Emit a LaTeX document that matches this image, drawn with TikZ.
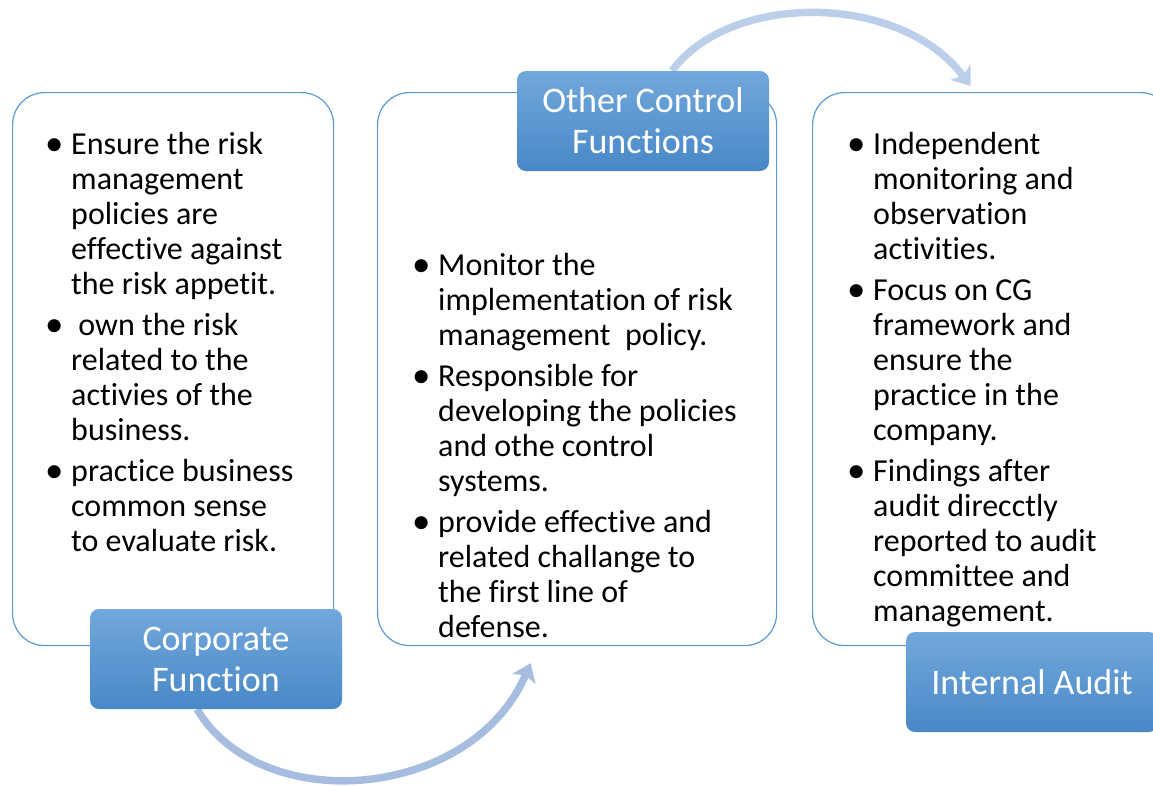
\documentclass[tikz,border=0pt]{standalone}
\usepackage{fontspec}
\setmainfont{Carlito}[Ligatures={NoCommon}]
\usepackage{enumitem}
\usetikzlibrary{arrows.meta,positioning}
\definecolor{panelline}{RGB}{91,155,213}
\definecolor{tagtop}{RGB}{114,168,220}
\definecolor{tagbot}{RGB}{72,136,199}
\definecolor{flowlow}{RGB}{166,189,223}
\definecolor{flowhigh}{RGB}{188,207,234}
\pgfdeclarelayer{back}
\pgfdeclarelayer{flows}
\pgfsetlayers{back,flows,main}
% bullet list used inside the panels
\newcommand{\pointmark}{\makebox[0pt][l]{\hspace{-5pt}\raisebox{-1.4pt}{\scalebox{1.15}{\textbullet}}}}
\newenvironment{points}[1]{\begin{minipage}[t]{#1}\raggedright
  \begin{itemize}[label=\pointmark,leftmargin=21pt,labelwidth=0pt,labelsep=21pt,labelindent=0pt,
    itemsep=6pt,parsep=0pt,topsep=0pt,partopsep=0pt]}
  {\end{itemize}\end{minipage}}
\begin{document}
\begin{tikzpicture}[x=1pt,y=-1pt,line join=round,
  panel/.style={draw=panelline,line width=1.2pt,rounded corners=32pt,fill=white,anchor=north west,inner sep=0pt},
  tag/.style={rounded corners=9pt,top color=tagtop,bottom color=tagbot,text=white,align=center,
    minimum width=252pt,minimum height=100pt,inner sep=0pt,font=\fontsize{36}{41}\selectfont},
  body/.style={anchor=base west,inner sep=0pt,font=\fontsize{32}{35}\selectfont},
  flow/.style={line width=7.5pt,-{Stealth[length=17pt,width=25pt,inset=4pt]}}]
\clip (0,0) rectangle (1153,785);
\useasboundingbox (0,0) rectangle (1153,785);
\begin{pgfonlayer}{back}
%% panels
\node[panel,minimum width=321pt,minimum height=553pt] (left) at (12,92) {};
\node[panel,minimum width=399pt,minimum height=553pt] (mid) at (377,92) {};
\node[panel,minimum width=360pt,minimum height=553pt] (right) at (812,92) {};
%% panel texts
\node[body] (ltext) at (50,154) {\begin{points}{300pt}
  \item Ensure the risk\newline management\newline policies are\newline effective against\newline the risk appetit.
  \item \ own the risk\newline related to the\newline activies of the\newline business.
  \item practice business\newline common sense\newline to evaluate risk.
\end{points}};
\node[body] (mtext) at (417,275) {\begin{points}{340pt}
  \item Monitor the\newline implementation of risk\newline management\ \ policy.
  \item Responsible for\newline developing the policies\newline and othe control\newline systems.
  \item provide effective and\newline related challange to\newline the first line of\newline defense.
\end{points}};
\node[body] (rtext) at (852,154) {\begin{points}{300pt}
  \item Independent\newline monitoring and\newline observation\newline activities.
  \item Focus on CG\newline framework and\newline ensure the\newline practice in the\newline company.
  \item Findings after\newline audit direcctly\newline reported to audit\newline committee and\newline management.
\end{points}};
\end{pgfonlayer}
%% labels
\node[tag] (corp) at (216,659) {Corporate\\Function};
\node[tag] (other) at (643,121) {Other Control\\Functions};
\node[tag] (audit) at (1032,682) {Internal Audit};
%% curved arrows, tails hidden under the labels
\coordinate (tipA) at ([shift={(-46.5pt,-17pt)}]mid.south);
\coordinate (tipB) at ([shift={(-22pt,6pt)}]right.north);
\begin{pgfonlayer}{flows}
\draw[flow,flowlow] ([xshift=-19pt]corp.south) .. controls (262,818) and (472,800) .. (tipA);
\draw[flow,flowhigh] ([xshift=29pt]other.north) .. controls (730,-8) and (900,-8) .. (tipB);
\end{pgfonlayer}
\end{tikzpicture}
\end{document}
